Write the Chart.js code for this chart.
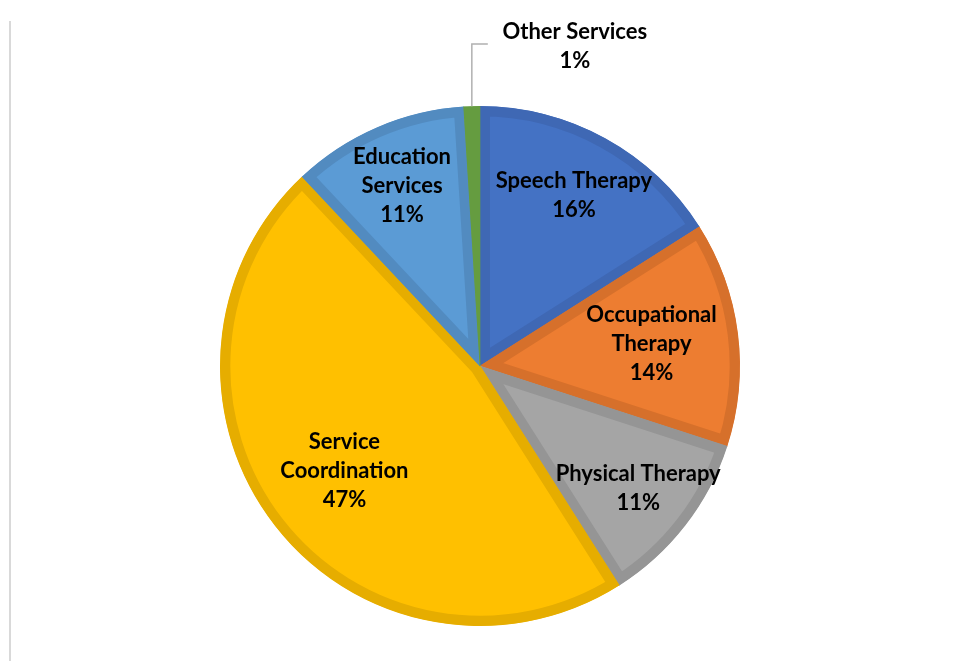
<!DOCTYPE html>
<html>
<head>
<meta charset="utf-8">
<script src="https://cdn.jsdelivr.net/npm/chart.js@4.4.0/dist/chart.umd.min.js"></script>
<style>
    html, body { margin: 0; padding: 0; background: #fff; }
    #wrap { position: relative; width: 956px; height: 661px; }
    #edge { position: absolute; left: 9px; top: 21px; width: 2px; height: 640px; background: #d9d9d9; }
</style>
</head>
<body>
<div id="wrap">
    <div id="edge"></div>
    <canvas id="pie" width="956" height="661"></canvas>
</div>
<script>
const categories = ['Speech Therapy', 'Occupational Therapy', 'Physical Therapy', 'Service Coordination', 'Education Services', 'Other Services'];
const shares = [16, 14, 11, 47, 11, 1];
const labelLines = [
    ['Speech Therapy'],
    ['Occupational', 'Therapy'],
    ['Physical Therapy'],
    ['Service', 'Coordination'],
    ['Education', 'Services'],
    ['Other Services']
];

const fills = ['#4472C4', '#ED7D31', '#A5A5A5', '#FFC000', '#5B9BD5', '#70AD47'];
const edges = ['#3F68B4', '#D6702B', '#959595', '#E6AD00', '#528BC0', '#659C40'];
// how far out along the radius each label sits (Excel best fit)
const labelRadius = [0.75, 0.665, 0.77, 0.66, 0.755, null];

let sliceLabels = {
    id: 'sliceLabels',
    afterDatasetsDraw(chart) {
        const ctx = chart.ctx;
        const meta = chart.getDatasetMeta(0);
        const lh = 29;
        ctx.save();
        ctx.font = 'bold 22px Lato, "DejaVu Sans", sans-serif';
        ctx.fillStyle = '#000';
        ctx.textAlign = 'center';
        ctx.textBaseline = 'middle';
        meta.data.forEach(function (arc, i) {
            const p = arc.getProps(['x', 'y', 'startAngle', 'endAngle', 'outerRadius']);
            const lines = labelLines[i].concat([shares[i] + '%']);
            const mid = (p.startAngle + p.endAngle) / 2;
            if (labelRadius[i] !== null) {
                const r = p.outerRadius * labelRadius[i];
                const cx = p.x + Math.cos(mid) * r;
                const cy = p.y + Math.sin(mid) * r;
                lines.forEach(function (t, k) {
                    ctx.fillText(t, cx, cy + (k - (lines.length - 1) / 2) * lh);
                });
            } else {
                // outside label with leader line
                const ex = p.x + Math.cos(mid) * p.outerRadius;
                const ey = p.y + Math.sin(mid) * p.outerRadius;
                const ty = p.y - p.outerRadius - 62;
                ctx.strokeStyle = '#b0b0b0';
                ctx.lineWidth = 1.5;
                ctx.beginPath();
                ctx.moveTo(ex, ey);
                ctx.lineTo(ex, ty);
                ctx.lineTo(ex + 16, ty);
                ctx.stroke();
                const tx = ex + 103;
                lines.forEach(function (t, k) {
                    ctx.fillText(t, tx, ty - 12 + k * lh);
                });
            }
        });
        ctx.restore();
    }
};

const config = {
    type: 'pie',
    data: {
        labels: categories,
        datasets: [{
            data: shares,
            backgroundColor: fills,
            borderColor: edges,
            borderWidth: 10,
            borderAlign: 'inner',
            borderJoinStyle: 'miter'
        }]
    },
    options: {
        responsive: false,
        animation: false,
        layout: {
            padding: { top: 106, bottom: 35, left: 220, right: 216 }
        },
        plugins: {
            legend: { display: false },
            tooltip: { enabled: false },
            title: { display: false }
        }
    },
    plugins: [sliceLabels]
};

new Chart(document.getElementById('pie').getContext('2d'), config);
</script>
</body>
</html>
